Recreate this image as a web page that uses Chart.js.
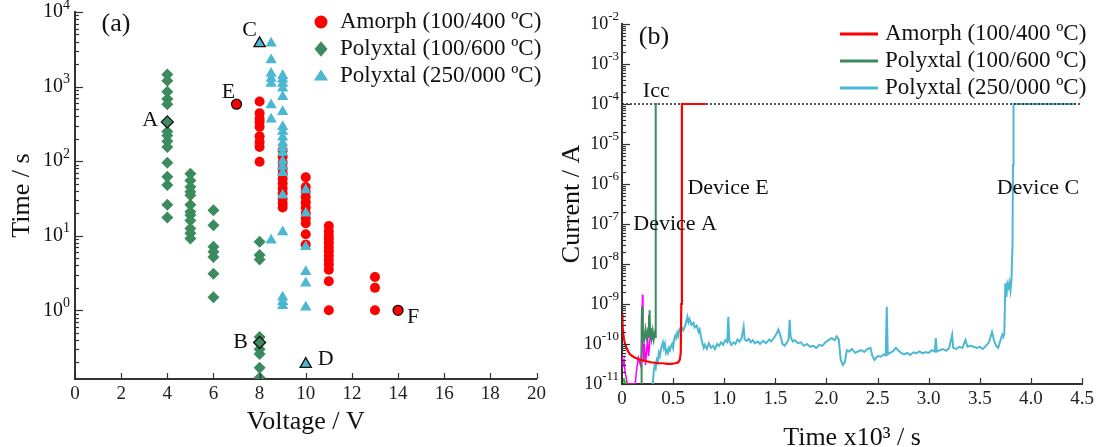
<!DOCTYPE html>
<html>
<head>
<meta charset="utf-8">
<title>Breakdown time and current transients</title>
<script src="https://cdn.jsdelivr.net/npm/chart.js@4.4.1/dist/chart.umd.min.js"></script>
<style>
  body { margin: 0; background: #fff; }
  .row { display: flex; width: 1100px; height: 447px; }
  canvas { display: block; }
</style>
</head>
<body>
<div class="row">
  <canvas id="panelA" width="550" height="447"></canvas>
  <canvas id="panelB" width="550" height="447"></canvas>
</div>
<script>
const SERIF = "'Liberation Serif', 'Times New Roman', serif";
const RED = "#ff0000", GREEN = "#3b8b5e", CYAN = "#4bb7d1";

const seriesNames = ["Amorph (100/400 ºC)", "Polyxtal (100/600 ºC)", "Polyxtal (250/000 ºC)"];

// (a) time to breakdown vs voltage
const amorphV = [8, 8, 8, 8, 8, 8, 8, 8, 8,
  9, 9, 9, 9, 9, 9, 9, 9, 9, 9, 9, 9,
  10, 10, 10, 10, 10, 10, 10, 10, 10, 10, 10,
  11, 11, 11, 11, 11, 11, 11, 11, 11, 11, 11, 11, 11,
  13, 13, 13];
const amorphT = [630, 440, 370, 335, 290, 215, 180, 155, 98,
  140, 115, 95, 80, 68, 58, 50, 43, 37, 31, 27, 24,
  61, 45, 39, 33, 28, 24, 20, 17, 14.7, 10.5, 7.6,
  13.5, 11.5, 10, 9, 8, 7, 6.2, 5.4, 4.7, 4.1, 3.5, 2.45, 1.0,
  2.8, 2.0, 1.0];
const amorphMarkV = [7, 14];
const amorphMarkT = [580, 1.0];
const amorphMarkNames = ["E", "F"];

const poly600V = [4, 4, 4, 4, 4, 4, 4, 4, 4, 4, 4, 4, 4, 4,
  5, 5, 5, 5, 5, 5, 5, 5, 5, 5, 5, 5,
  6, 6, 6, 6, 6, 6, 6,
  8, 8, 8, 8, 8, 8, 8, 8];
const poly600T = [1450, 1200, 850, 680, 580, 250, 220, 185, 155, 95, 62, 48, 26, 17.5,
  68, 55, 45, 39, 35, 26, 21, 19, 16, 12.5, 10.8, 9.2,
  22, 13.8, 7.1, 6.1, 5.2, 3.1, 1.5,
  8.3, 5.5, 4.8, 0.44, 0.30, 0.26, 0.17, 0.125];
const poly600MarkV = [4, 8];
const poly600MarkT = [336, 0.37];
const poly600MarkNames = ["A", "B"];

const poly250V = [8.5, 8.5, 8.5, 8.5, 8.5, 8.5, 8.5, 8.5,
  9, 9, 9, 9, 9, 9, 9, 9, 9, 9, 9, 9, 9, 9, 9, 9, 9, 9, 9, 9,
  10, 10, 10, 10, 10, 10];
const poly250T = [3800, 2270, 1500, 1280, 1100, 565, 365, 8.7,
  1400, 1250, 1100, 950, 730, 460, 290, 250, 210, 175, 150, 130, 100, 85, 70, 35, 11.2, 1.5, 1.3, 1.15,
  41, 20, 7.1, 3.3, 2.3, 1.1];
const poly250MarkV = [8, 10];
const poly250MarkT = [3800, 0.19];
const poly250MarkNames = ["C", "D"];

const yExpA = [0, 1, 2, 3, 4];

// (b) current transients
const amorphTime = [0, 0.005, 0.01, 0.02, 0.03, 0.045, 0.06, 0.08, 0.1, 0.13, 0.16, 0.2, 0.24, 0.28,
  0.32, 0.36, 0.4, 0.44, 0.48, 0.52, 0.55, 0.565, 0.575, 0.58, 0.586, 0.82];
const amorphCur = [5.5e-10, 3e-10, 2e-10, 1.3e-10, 1e-10, 8e-11, 6.5e-11, 5.5e-11, 5e-11, 4.5e-11, 4.2e-11,
  3.9e-11, 3.7e-11, 3.5e-11, 3.4e-11, 3.3e-11, 3.3e-11, 3.2e-11, 3.2e-11, 3.3e-11, 3.5e-11, 4e-11,
  6e-11, 1e-9, 1e-4, 1e-4];

const poly600Time = [0.19, 0.192, 0.196, 0.2, 0.205, 0.21, 0.215, 0.22, 0.23, 0.24, 0.25, 0.26, 0.265,
  0.27, 0.275, 0.28, 0.29, 0.3, 0.31, 0.32, 0.326, 0.33, 0.345];
const poly600Cur = [1e-11, 3e-10, 8.5e-10, 1.3e-10, 2.4e-10, 1.2e-10, 1.9e-10, 1.4e-10, 2.3e-10, 1.5e-10,
  2e-10, 1.4e-10, 5e-10, 7e-10, 1.6e-10, 2.5e-10, 1.4e-10, 2.1e-10, 1.3e-10, 1.8e-10, 1.5e-10, 1e-4, 1e-4];

const poly250Time = [0.30, 0.31, 0.32, 0.33, 0.34, 0.35, 0.36, 0.37, 0.38, 0.39, 0.40, 0.41, 0.42, 0.43,
  0.44, 0.45, 0.46, 0.47, 0.48, 0.49, 0.50, 0.51, 0.52, 0.53, 0.54, 0.55, 0.56, 0.58, 0.60, 0.62, 0.64,
  0.65, 0.66, 0.68, 0.70, 0.71, 0.73, 0.75, 0.76, 0.78, 0.80, 0.81, 0.83, 0.85, 0.87, 0.89, 0.91, 0.93,
  0.95, 0.97, 0.99, 1.01, 1.03, 1.04, 1.05, 1.07, 1.09, 1.11, 1.13, 1.15, 1.17, 1.19, 1.20, 1.22, 1.24,
  1.26, 1.28, 1.30, 1.33, 1.35, 1.38, 1.41, 1.44, 1.46, 1.48, 1.50, 1.52, 1.53, 1.55, 1.57, 1.59, 1.61,
  1.63, 1.64, 1.65, 1.67, 1.69, 1.72, 1.75, 1.78, 1.81, 1.84, 1.87, 1.90, 1.93, 1.96, 1.99, 2.02, 2.05,
  2.08, 2.10, 2.12, 2.14, 2.16, 2.18, 2.20, 2.22, 2.25, 2.28, 2.31, 2.34, 2.37, 2.40, 2.43, 2.45, 2.47,
  2.50, 2.53, 2.56, 2.58, 2.59, 2.60, 2.62, 2.65, 2.68, 2.70, 2.73, 2.76, 2.79, 2.82, 2.85, 2.88, 2.91,
  2.94, 2.97, 3.00, 3.03, 3.06, 3.07, 3.08, 3.11, 3.14, 3.17, 3.20, 3.23, 3.24, 3.27, 3.30, 3.33, 3.36,
  3.38, 3.41, 3.44, 3.47, 3.50, 3.53, 3.56, 3.59, 3.62, 3.64, 3.66, 3.68, 3.70, 3.72, 3.73, 3.74, 3.75,
  3.76, 3.77, 3.78, 3.79, 3.80, 3.81, 3.82, 3.825, 3.83, 4.44];
const poly250Cur = [1e-11, 2e-11, 3e-11, 2.5e-11, 4e-11, 3.5e-11, 6e-11, 5e-11, 7e-11, 9e-11, 1.1e-10,
  8e-11, 1e-10, 6e-11, 7e-11, 6e-11, 8e-11, 7e-11, 9e-11, 1e-10, 8e-11, 1.3e-10, 1.6e-10, 1.4e-10,
  1.9e-10, 1.6e-10, 2.3e-10, 2.7e-10, 2.2e-10, 3e-10, 4.8e-10, 3.5e-10, 4.2e-10, 3e-10, 3.4e-10,
  2.6e-10, 2.9e-10, 2e-10, 2.3e-10, 1.2e-10, 8e-11, 9.5e-11, 7.5e-11, 1.05e-10, 8e-11, 9e-11, 7.5e-11,
  1e-10, 9e-11, 1.1e-10, 9.5e-11, 1.25e-10, 1.1e-10, 4.8e-10, 1.2e-10, 9.5e-11, 1.1e-10, 1e-10,
  1.3e-10, 1.15e-10, 1.4e-10, 2.7e-10, 1.3e-10, 1.2e-10, 1.35e-10, 1.1e-10, 1.25e-10, 1.05e-10,
  1.15e-10, 1e-10, 1.2e-10, 1.05e-10, 1.3e-10, 1.15e-10, 1.35e-10, 1.6e-10, 2e-10, 2.3e-10, 1.6e-10,
  1e-10, 9e-11, 1.05e-10, 1.3e-10, 4e-10, 1.5e-10, 1.15e-10, 1.25e-10, 1.05e-10, 1.1e-10, 9e-11,
  1e-10, 8.5e-11, 9e-11, 8e-11, 9.5e-11, 9e-11, 1.1e-10, 1.25e-10, 1.4e-10, 1.25e-10, 1.55e-10,
  1.3e-10, 4e-11, 3e-11, 3.5e-11, 7e-11, 6.5e-11, 7.5e-11, 6e-11, 6.5e-11, 7e-11, 6.3e-11, 7.5e-11,
  8e-11, 5e-11, 4e-11, 5e-11, 4.8e-11, 5.5e-11, 5.2e-11, 8.5e-10, 5.5e-11, 6e-11, 6.5e-11, 8e-11,
  7e-11, 6e-11, 5.5e-11, 6e-11, 5.3e-11, 6.2e-11, 5.8e-11, 6.5e-11, 5.8e-11, 6.3e-11, 6e-11, 7e-11,
  6.5e-11, 1.4e-10, 6.5e-11, 7e-11, 7.5e-11, 6.8e-11, 8e-11, 1.7e-10, 8e-11, 7.5e-11, 8.5e-11, 8e-11,
  1.25e-10, 8.5e-11, 9e-11, 8.5e-11, 8e-11, 8.5e-11, 7.5e-11, 9e-11, 1.1e-10, 2e-10, 1.2e-10, 9e-11,
  8e-11, 1.2e-10, 1.7e-10, 1.5e-10, 1.8e-10, 3.3e-9, 1.5e-9, 3.2e-9, 2.6e-9, 3.5e-9, 2.2e-9, 4e-9,
  3e-8, 3e-6, 1e-4, 1e-4];

// other devices, not in the legend
const magentaTime = [0, 0.01, 0.02, 0.03, 0.045, 0.05, 0.13, 0.14, 0.16, 0.18, 0.19, 0.2, 0.205, 0.21,
  0.22, 0.23, 0.24, 0.25, 0.26, 0.27, 0.28, 0.29];
const magentaCur = [5.5e-11, 3e-11, 4e-11, 2e-11, 1.3e-11, 1e-11, 1e-11, 2e-11, 4.5e-11, 3e-11, 6e-11,
  1.7e-9, 8e-11, 4e-11, 1e-10, 3e-11, 6e-11, 1.5e-10, 5e-11, 9e-11, 2.5e-10, 1.2e-10];
const limeTime = [0, 0.01, 0.02, 0.03, 0.04];
const limeCur = [1.4e-11, 1.2e-11, 1.3e-11, 1.1e-11, 1e-11];

const iccLevel = 1e-4;
const iccSpan = [0, 4.5];
const xTickLabelsB = ["0", "0.5", "1.0", "1.5", "2.0", "2.5", "3.0", "3.5", "4.0", "4.5"];
const yExpB = [-11, -10, -9, -8, -7, -6, -5, -4, -3, -2];

const xy = (xs, ys) => xs.map((x, i) => ({ x: x, y: ys[i] }));

function marker(ctx, style, x, y, r) {
  ctx.beginPath();
  if (style === "circle") {
    ctx.arc(x, y, r, 0, Math.PI * 2);
  } else if (style === "rectRot") {
    ctx.moveTo(x, y - r * 1.2); ctx.lineTo(x + r, y);
    ctx.lineTo(x, y + r * 1.2); ctx.lineTo(x - r, y);
  } else {
    ctx.moveTo(x, y - r); ctx.lineTo(x + r * 1.1, y + r * 0.7); ctx.lineTo(x - r * 1.1, y + r * 0.7);
  }
  ctx.closePath();
  ctx.fill();
}

function tickLine(ctx, x0, y0, x1, y1) {
  ctx.beginPath(); ctx.moveTo(x0, y0); ctx.lineTo(x1, y1); ctx.stroke();
}

// inward ticks, 10^n labels, text notes and legend
const decor = {
  id: "decor",
  afterDatasetsDraw(chart, args, o) {
    const ctx = chart.ctx, area = chart.chartArea;
    const xs = chart.scales.x, ys = chart.scales.y;
    ctx.save();
    ctx.strokeStyle = "#333";
    ctx.lineWidth = 1.2;
    xs.ticks.forEach((t) => {
      const px = Math.round(xs.getPixelForValue(t.value)) + 0.5;
      tickLine(ctx, px, area.bottom, px, area.bottom - 6);
    });
    const e0 = Math.floor(Math.log10(ys.min)), e1 = Math.ceil(Math.log10(ys.max));
    for (let e = e0; e <= e1; e++) {
      for (let k = 1; k < 10; k++) {
        const v = k * Math.pow(10, e);
        if (v < ys.min * 0.999 || v > ys.max * 1.001) continue;
        const py = Math.round(ys.getPixelForValue(v)) + 0.5;
        tickLine(ctx, area.left, py, area.left + (k === 1 ? 8 : 4), py);
      }
    }
    ctx.fillStyle = "#111";
    ctx.textBaseline = "middle";
    ctx.textAlign = "right";
    o.exps.forEach((e) => {
      const py = ys.getPixelForValue(Math.pow(10, e));
      const s = String(e);
      ctx.font = `${o.supSize}px ${SERIF}`;
      const w = ctx.measureText(s).width;
      ctx.fillText(s, area.left - o.gap, py - o.rise);
      ctx.font = `${o.size}px ${SERIF}`;
      ctx.fillText("10", area.left - o.gap - w, py);
    });
    o.notes.forEach((n) => {
      const px = n.px !== undefined ? n.px : xs.getPixelForValue(n.x);
      const py = n.py !== undefined ? n.py : ys.getPixelForValue(n.y);
      ctx.font = `${n.size || 22}px ${SERIF}`;
      ctx.textAlign = n.align || "center";
      ctx.fillText(n.text, px + (n.dx || 0), py + (n.dy || 0));
    });
    const L = o.legend;
    ctx.font = `${L.size}px ${SERIF}`;
    ctx.textAlign = "left";
    chart.data.datasets.filter((d) => d.inLegend).forEach((d, i) => {
      const y = L.y + i * L.dy;
      if (L.kind === "line") {
        ctx.fillStyle = d.borderColor;
        ctx.fillRect(L.x, y - 1.5, L.w, 3);
      } else {
        ctx.fillStyle = d.pointBackgroundColor;
        marker(ctx, d.pointStyle, L.x, y, L.r);
      }
      ctx.fillStyle = "#111";
      ctx.fillText(d.label, L.textX, y);
    });
    ctx.restore();
  },
};

Chart.defaults.font.family = SERIF;
Chart.defaults.color = "#111";

function axisBase(extra) {
  return Object.assign({
    grid: { display: true, drawOnChartArea: false, drawTicks: false },
    border: { display: true, color: "#333", width: 2 },
  }, extra);
}

// ---------- panel (a)
const markOffsets = { A: [-17, -2], B: [-19, 0], C: [-10, -13], D: [20, -5], E: [-8, -12], F: [15, 7] };
const notesA = [{ text: "(a)", px: 116, py: 24, size: 26 }];
[[amorphMarkV, amorphMarkT, amorphMarkNames], [poly600MarkV, poly600MarkT, poly600MarkNames],
  [poly250MarkV, poly250MarkT, poly250MarkNames]].forEach(([vs, ts, names]) => {
  names.forEach((nm, i) => {
    notesA.push({ text: nm, x: vs[i], y: ts[i], dx: markOffsets[nm][0], dy: markOffsets[nm][1] });
  });
});

const scatterSet = (label, data, style, color, r, order, extra) => Object.assign({
  label: label, data: data, pointStyle: style, pointRadius: r,
  pointBackgroundColor: color, pointBorderColor: color, pointBorderWidth: 0, order: order,
}, extra || {});

new Chart(document.getElementById("panelA"), {
  type: "scatter",
  data: {
    datasets: [
      scatterSet(seriesNames[0], xy(amorphV, amorphT), "circle", RED, 5, 3, { inLegend: true }),
      scatterSet(seriesNames[1], xy(poly600V, poly600T), "rectRot", GREEN, 6, 2, { inLegend: true }),
      scatterSet(seriesNames[2], xy(poly250V, poly250T), "triangle", CYAN, 6.5, 1, { inLegend: true }),
      scatterSet("E, F", xy(amorphMarkV, amorphMarkT), "circle", RED, 5, 0,
        { pointBorderColor: "#111", pointBorderWidth: 1.3 }),
      scatterSet("A, B", xy(poly600MarkV, poly600MarkT), "rectRot", GREEN, 6, 0,
        { pointBorderColor: "#111", pointBorderWidth: 1.3 }),
      scatterSet("C, D", xy(poly250MarkV, poly250MarkT), "triangle", CYAN, 6.5, 0,
        { pointBorderColor: "#111", pointBorderWidth: 1.3 }),
    ],
  },
  options: {
    responsive: false,
    animation: false,
    devicePixelRatio: 1,
    events: [],
    layout: { padding: { left: 0, top: 12, right: 9, bottom: 0 } },
    plugins: {
      legend: { display: false },
      tooltip: { enabled: false },
      decor: {
        exps: yExpA, size: 20, supSize: 14, gap: 5, rise: 7, notes: notesA,
        legend: { kind: "marker", x: 321, y: 22, dy: 27, textX: 340, r: 6.5, size: 23 },
      },
    },
    scales: {
      x: axisBase({
        type: "linear", min: 0, max: 20,
        ticks: { stepSize: 2, font: { size: 19 }, padding: 4, color: "#222" },
        title: { display: true, text: "Voltage / V", font: { size: 26, lineHeight: 1 }, padding: { top: 0, bottom: 12 } },
        afterFit: (s) => { s.height = 68; },
      }),
      y: axisBase({
        type: "logarithmic", min: 0.12, max: 1e4,
        ticks: { display: false },
        title: { display: true, text: "Time / s", font: { size: 26, lineHeight: 1 }, padding: { top: 9, bottom: 0 } },
        afterFit: (s) => { s.width = 75; },
      }),
    },
  },
  plugins: [decor],
});

// ---------- panel (b)
const lineSet = (label, xs, ys, color, width, order, extra) => Object.assign({
  label: label, data: xy(xs, ys), showLine: true, pointRadius: 0, borderColor: color,
  backgroundColor: color, borderWidth: width, tension: 0, order: order,
}, extra || {});

new Chart(document.getElementById("panelB"), {
  type: "scatter",
  data: {
    datasets: [
      lineSet(seriesNames[0], amorphTime, amorphCur, RED, 2.2, 0, { inLegend: true }),
      lineSet(seriesNames[1], poly600Time, poly600Cur, "#3a8a5c", 2, 1, { inLegend: true }),
      lineSet(seriesNames[2], poly250Time, poly250Cur, "#4db8d2", 2, 5, { inLegend: true }),
      lineSet("Icc", iccSpan, iccSpan.map(() => iccLevel), "#222", 1.5, 2, { borderDash: [2, 2] }),
      lineSet("other device 1", magentaTime, magentaCur, "#ff00ff", 1.5, 3),
      lineSet("other device 2", limeTime, limeCur, "#00e000", 2, 4),
    ],
  },
  options: {
    responsive: false,
    animation: false,
    devicePixelRatio: 1,
    events: [],
    layout: { padding: { left: 0, top: 24, right: 18, bottom: 0 } },
    plugins: {
      legend: { display: false },
      tooltip: { enabled: false },
      decor: {
        exps: yExpB, size: 18, supSize: 13, gap: 3, rise: 7,
        notes: [
          { text: "(b)", px: 104, py: 37, size: 26 },
          { text: "Icc", x: 0.335, y: Math.pow(10, -3.68) },
          { text: "Device E", x: 0.64, y: Math.pow(10, -6.1), align: "left" },
          { text: "Device A", x: 0.11, y: 1e-7, align: "left" },
          { text: "Device C", x: 3.665, y: Math.pow(10, -6.1), align: "left" },
        ],
        legend: { kind: "line", x: 290, w: 38, y: 34, dy: 27, textX: 335, size: 23 },
      },
    },
    scales: {
      x: axisBase({
        type: "linear", min: 0, max: 4.5,
        ticks: { stepSize: 0.5, font: { size: 19 }, padding: 4, color: "#222",
          callback: (v, i) => xTickLabelsB[i] },
        title: { display: true, text: "Time x10³ / s", font: { size: 26, lineHeight: 1 }, padding: { top: 0, bottom: -4 } },
        afterFit: (s) => { s.height = 63; },
      }),
      y: axisBase({
        type: "logarithmic", min: 1e-11, max: 1e-2,
        ticks: { display: false },
        title: { display: true, text: "Current / A", font: { size: 26, lineHeight: 1 }, padding: { top: 9, bottom: 0 } },
        afterFit: (s) => { s.width = 72; },
      }),
    },
  },
  plugins: [decor],
});
</script>
</body>
</html>
